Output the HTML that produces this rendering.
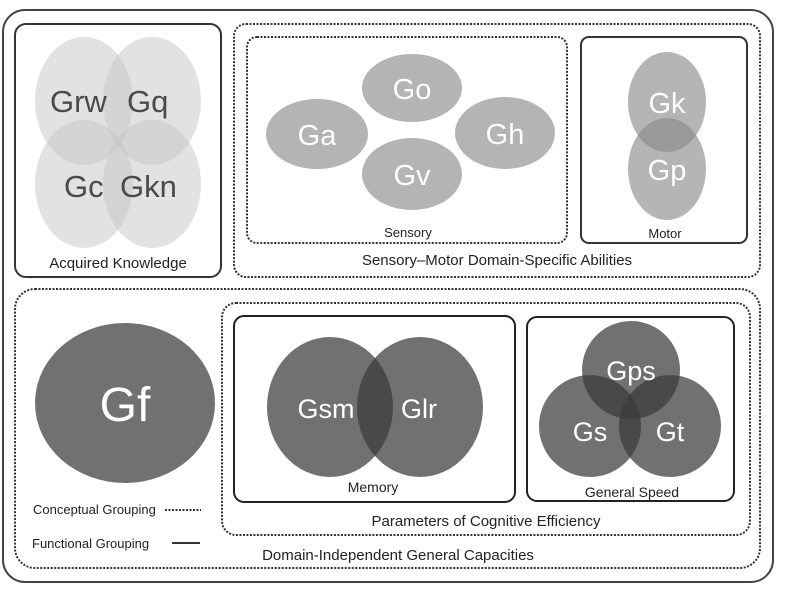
<!DOCTYPE html>
<html><head><meta charset="utf-8"><style>
html,body{margin:0;padding:0;background:#fff;}
svg{display:block;}
text{font-family:"Liberation Sans",sans-serif;}
</style></head><body>
<svg width="794" height="595" viewBox="0 0 794 595" xmlns="http://www.w3.org/2000/svg">
<rect x="3" y="10" width="770" height="572" rx="22" fill="none" stroke="#444" stroke-width="2"/>
<!-- Acquired knowledge -->
<rect x="15" y="24" width="206" height="253" rx="11" fill="none" stroke="#333" stroke-width="2"/>
<g fill="#c6c6c6" fill-opacity="0.5">
<ellipse cx="84" cy="101" rx="49" ry="64"/>
<ellipse cx="152" cy="101" rx="49" ry="64"/>
<ellipse cx="84" cy="184" rx="49" ry="64"/>
<ellipse cx="152" cy="184" rx="49" ry="64"/>
</g>
<g fill="#4a4a4a" font-size="31">
<text x="50" y="112">Grw</text><text x="127" y="112">Gq</text>
<text x="64" y="197">Gc</text><text x="120" y="197">Gkn</text>
</g>
<text x="118" y="268" font-size="15" fill="#222" text-anchor="middle">Acquired Knowledge</text>
<!-- Sensory-motor -->
<rect x="234" y="24" width="526" height="253" rx="12" fill="none" stroke="#333" stroke-width="2" stroke-dasharray="2,1.5"/>
<rect x="247" y="37" width="320" height="206" rx="10" fill="none" stroke="#333" stroke-width="2" stroke-dasharray="2,1.5"/>
<g fill="#b4b4b4">
<ellipse cx="412" cy="88" rx="50" ry="34"/>
<ellipse cx="317" cy="134" rx="51" ry="35"/>
<ellipse cx="505" cy="133" rx="50" ry="36"/>
<ellipse cx="412" cy="174" rx="50" ry="36"/>
</g>
<g fill="#fff" font-size="29" text-anchor="middle">
<text x="412" y="99">Go</text><text x="317" y="145">Ga</text>
<text x="505" y="144">Gh</text><text x="412" y="185">Gv</text>
</g>
<text x="408" y="237" font-size="13" fill="#222" text-anchor="middle">Sensory</text>
<rect x="581" y="37" width="166" height="206" rx="8" fill="none" stroke="#333" stroke-width="2"/>
<g fill="#888" fill-opacity="0.62">
<ellipse cx="667" cy="102" rx="39" ry="50"/>
<ellipse cx="667" cy="169" rx="39" ry="51"/>
</g>
<g fill="#fff" font-size="29" text-anchor="middle">
<text x="667" y="113">Gk</text><text x="667" y="180">Gp</text>
</g>
<text x="665" y="238" font-size="13" fill="#222" text-anchor="middle">Motor</text>
<text x="497" y="265" font-size="15" fill="#222" text-anchor="middle">Sensory–Motor Domain-Specific Abilities</text>
<!-- Bottom -->
<rect x="15" y="289" width="745" height="279" rx="20" fill="none" stroke="#333" stroke-width="2" stroke-dasharray="2,1.5"/>
<ellipse cx="125" cy="403" rx="90" ry="80" fill="#717171"/>
<text x="125" y="421" font-size="48" fill="#fff" text-anchor="middle">Gf</text>
<text x="33" y="514" font-size="13" fill="#222">Conceptual Grouping</text>
<line x1="165" y1="510" x2="201" y2="510" stroke="#333" stroke-width="2" stroke-dasharray="2,1.5"/>
<text x="32" y="548" font-size="13" fill="#222">Functional Grouping</text>
<line x1="172" y1="543" x2="200" y2="543" stroke="#333" stroke-width="2"/>
<rect x="222" y="303" width="528" height="232" rx="14" fill="none" stroke="#333" stroke-width="2" stroke-dasharray="2,1.5"/>
<rect x="234" y="316" width="281" height="186" rx="10" fill="none" stroke="#222" stroke-width="2"/>
<g fill="#3a3a3a" fill-opacity="0.72">
<ellipse cx="330" cy="407" rx="63" ry="70"/>
<ellipse cx="420" cy="407" rx="63" ry="70"/>
</g>
<g fill="#fff" font-size="27" text-anchor="middle">
<text x="326" y="418">Gsm</text><text x="419" y="418">Glr</text>
</g>
<text x="373" y="492" font-size="14" fill="#222" text-anchor="middle">Memory</text>
<rect x="527" y="317" width="207" height="184" rx="10" fill="none" stroke="#222" stroke-width="2"/>
<g fill="#3a3a3a" fill-opacity="0.72">
<circle cx="631" cy="370" r="49"/>
<circle cx="590" cy="426" r="51"/>
<circle cx="670" cy="426" r="51"/>
</g>
<g fill="#fff" font-size="27" text-anchor="middle">
<text x="631" y="380">Gps</text><text x="590" y="441">Gs</text><text x="670" y="441">Gt</text>
</g>
<text x="632" y="497" font-size="14" fill="#222" text-anchor="middle">General Speed</text>
<text x="486" y="526" font-size="15" fill="#222" text-anchor="middle">Parameters of Cognitive Efficiency</text>
<text x="398" y="560" font-size="15" fill="#222" text-anchor="middle">Domain-Independent General Capacities</text>
</svg>
</body></html>
